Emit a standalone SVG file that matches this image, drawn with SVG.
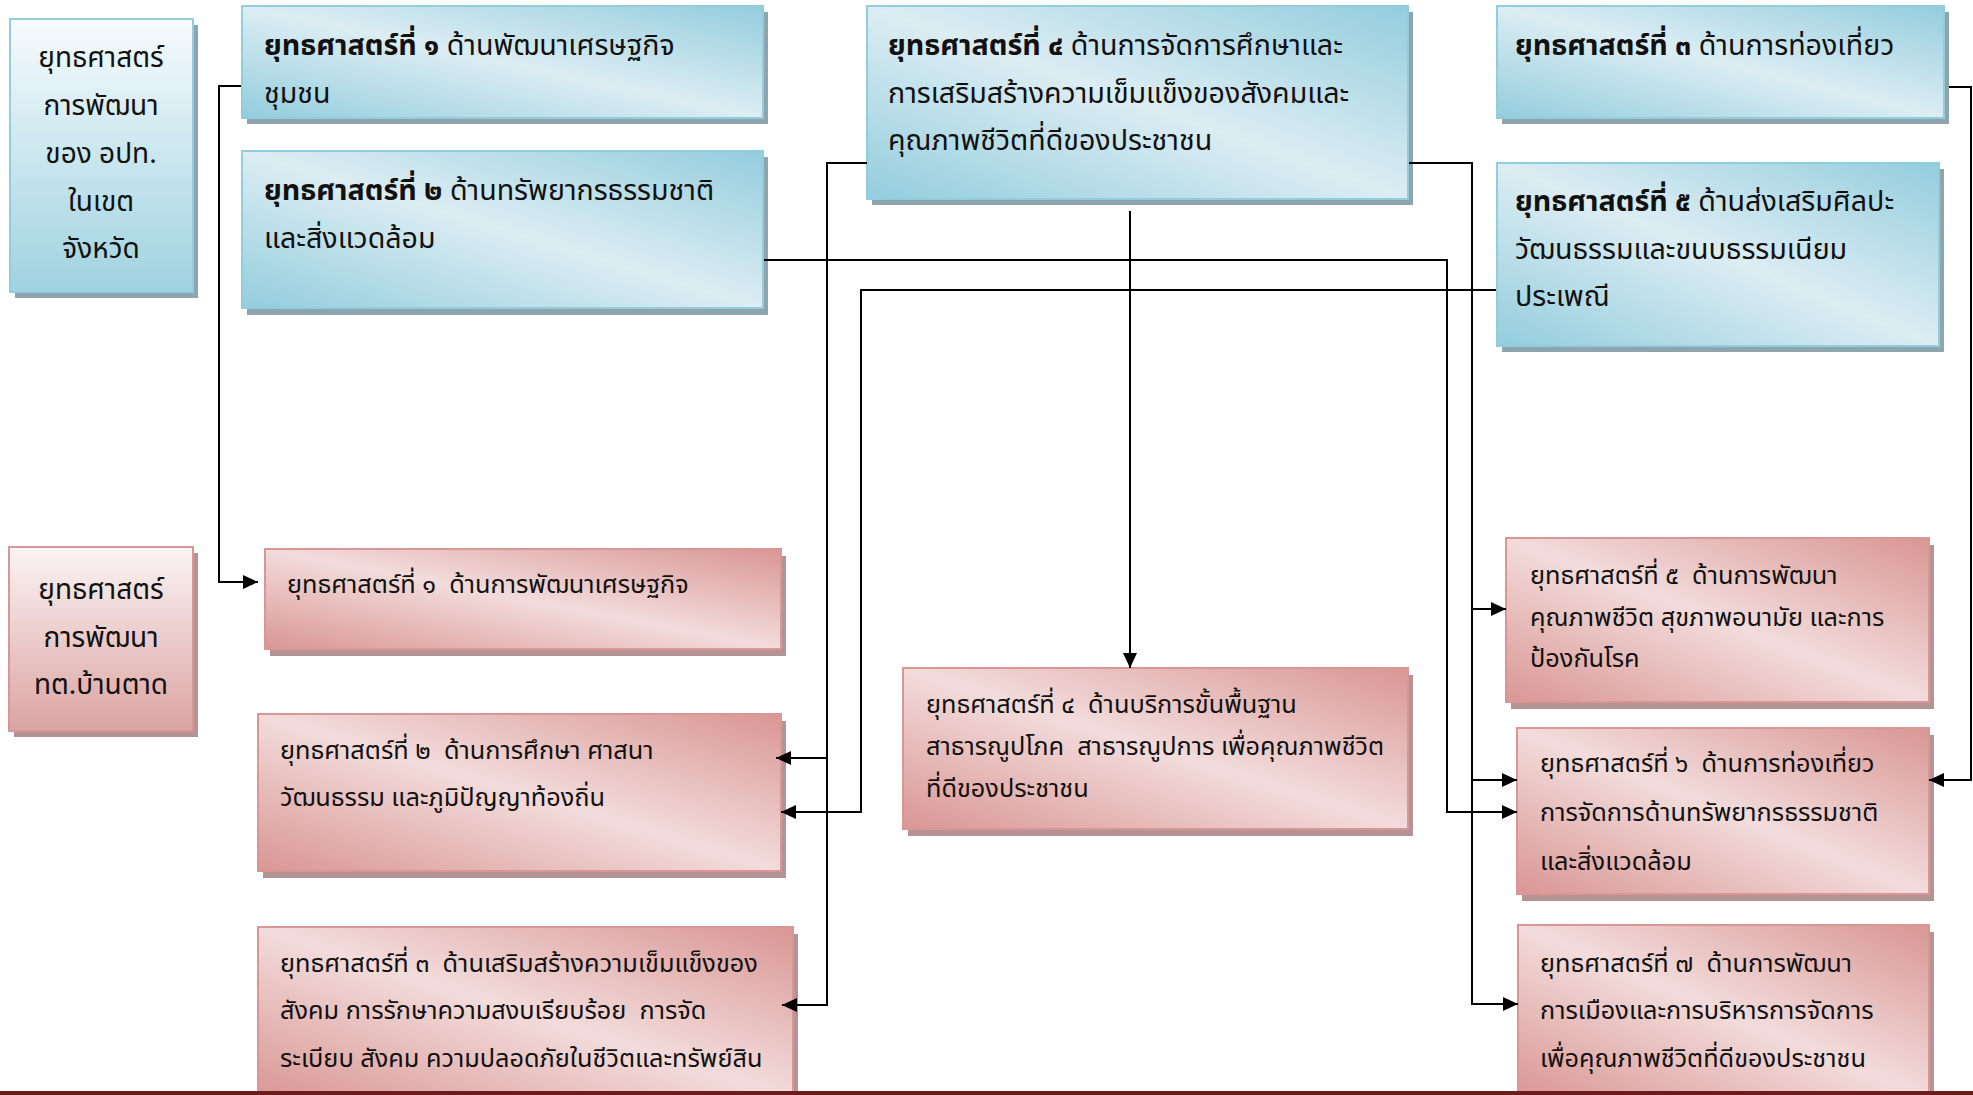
<svg xmlns="http://www.w3.org/2000/svg" width="1973" height="1095" viewBox="0 0 1973 1095">
<defs>
<linearGradient id="gBlue" x1="0" y1="1" x2="1" y2="0">
<stop offset="0" stop-color="#93cddd"/><stop offset="0.5" stop-color="#dcedf3"/><stop offset="1" stop-color="#93cddd"/>
</linearGradient>
<linearGradient id="gPink" x1="0" y1="1" x2="1" y2="0">
<stop offset="0" stop-color="#d99694"/><stop offset="0.5" stop-color="#f2dcdb"/><stop offset="1" stop-color="#d99694"/>
</linearGradient>
<linearGradient id="gBlueV" x1="0" y1="0" x2="0" y2="1">
<stop offset="0" stop-color="#f7fbfd"/><stop offset="1" stop-color="#9fd2e0"/>
</linearGradient>
<linearGradient id="gPinkV" x1="0" y1="0" x2="0" y2="1">
<stop offset="0" stop-color="#fbf4f4"/><stop offset="1" stop-color="#dba3a2"/>
</linearGradient>
<marker id="arr" markerUnits="userSpaceOnUse" markerWidth="16" markerHeight="14" refX="15" refY="7" orient="auto">
<path d="M0,0 L15,7 L0,14 z" fill="#000"/>
</marker>
</defs>
<style>
.bs{fill:#8ea5ad}
.ps{fill:#b39393}
.b{fill:url(#gBlue);stroke:#93cddd;stroke-width:2}
.p{fill:url(#gPink);stroke:#d99694;stroke-width:2}
.bv{fill:url(#gBlueV);stroke:#93cddd;stroke-width:2}
.pv{fill:url(#gPinkV);stroke:#d99694;stroke-width:2}
text{font-family:"Noto Sans Thai","Noto Sans Thai UI",Loma,Garuda,"Noto Sans","DejaVu Sans",sans-serif;font-size:25.3px;fill:#111;white-space:pre}
.t{font-size:28.6px}
.c{text-anchor:middle;font-size:28px}
.bd{font-weight:bold}
.ln{fill:none;stroke:#000;stroke-width:2}
.la{fill:none;stroke:#000;stroke-width:2;marker-end:url(#arr)}
</style>
<rect width="1973" height="1095" fill="#fff"/>

<g id="head-province">
<rect class="bs" x="15" y="25" width="183" height="273"/>
<rect class="bv" x="10" y="19" width="183" height="273"/>
<text class="c" x="101" y="67">ยุทธศาสตร์</text>
<text class="c" x="101" y="115">การพัฒนา</text>
<text class="c" x="101" y="163">ของ อปท.</text>
<text class="c" x="101" y="211">ในเขต</text>
<text class="c" x="101" y="258">จังหวัด</text>
</g>
<g id="head-local">
<rect class="ps" x="14" y="553" width="184" height="184"/>
<rect class="pv" x="9" y="547" width="184" height="184"/>
<text class="c" x="101" y="599">ยุทธศาสตร์</text>
<text class="c" x="101" y="647">การพัฒนา</text>
<text class="c" x="101" y="694">ทต.บ้านตาด</text>
</g>

<g id="a1">
<rect class="bs" x="247" y="12" width="521" height="112"/>
<rect class="b" x="242" y="6" width="521" height="112"/>
<text class="t" x="264" y="55"><tspan class="bd">ยุทธศาสตร์ที่ ๑</tspan> ด้านพัฒนาเศรษฐกิจ</text>
<text class="t" x="264" y="103">ชุมชน</text>
</g>
<g id="a2">
<rect class="bs" x="247" y="157" width="521" height="158"/>
<rect class="b" x="242" y="151" width="521" height="157"/>
<text class="t" x="264" y="200"><tspan class="bd">ยุทธศาสตร์ที่ ๒</tspan> ด้านทรัพยากรธรรมชาติ</text>
<text class="t" x="264" y="248">และสิ่งแวดล้อม</text>
</g>
<g id="a4">
<rect class="bs" x="872" y="12" width="541" height="193"/>
<rect class="b" x="867" y="6" width="541" height="193"/>
<text class="t" x="888" y="55"><tspan class="bd">ยุทธศาสตร์ที่ ๔</tspan> ด้านการจัดการศึกษาและ</text>
<text class="t" x="888" y="103">การเสริมสร้างความเข็มแข็งของสังคมและ</text>
<text class="t" x="888" y="150">คุณภาพชีวิตที่ดีของประชาชน</text>
</g>
<g id="a3">
<rect class="bs" x="1502" y="12" width="447" height="112"/>
<rect class="b" x="1497" y="6" width="447" height="112"/>
<text class="t" x="1515" y="55"><tspan class="bd">ยุทธศาสตร์ที่ ๓</tspan> ด้านการท่องเที่ยว</text>
</g>
<g id="a5">
<rect class="bs" x="1502" y="169" width="442" height="183"/>
<rect class="b" x="1497" y="163" width="442" height="183"/>
<text class="t" x="1515" y="211"><tspan class="bd">ยุทธศาสตร์ที่ ๕</tspan> ด้านส่งเสริมศิลปะ</text>
<text class="t" x="1515" y="259">วัฒนธรรมและขนบธรรมเนียม</text>
<text class="t" x="1515" y="306">ประเพณี</text>
</g>

<g id="p1">
<rect class="ps" x="270" y="556" width="516" height="100"/>
<rect class="p" x="265" y="549" width="516" height="100"/>
<text x="287" y="593">ยุทธศาสตร์ที่ ๑  ด้านการพัฒนาเศรษฐกิจ</text>
</g>
<g id="p2">
<rect class="ps" x="263" y="721" width="523" height="157"/>
<rect class="p" x="258" y="714" width="523" height="157"/>
<text x="280" y="759">ยุทธศาสตร์ที่ ๒  ด้านการศึกษา ศาสนา</text>
<text x="280" y="806">วัฒนธรรม และภูมิปัญญาท้องถิ่น</text>
</g>
<g id="p3">
<rect class="ps" x="263" y="934" width="535" height="170"/>
<rect class="p" x="258" y="927" width="535" height="172"/>
<text x="280" y="972">ยุทธศาสตร์ที่ ๓  ด้านเสริมสร้างความเข็มแข็งของ</text>
<text x="280" y="1019">สังคม การรักษาความสงบเรียบร้อย  การจัด</text>
<text x="280" y="1067">ระเบียบ สังคม ความปลอดภัยในชีวิตและทรัพย์สิน</text>
</g>
<g id="p4">
<rect class="ps" x="908" y="675" width="505" height="161"/>
<rect class="p" x="903" y="668" width="505" height="161"/>
<text x="926" y="713">ยุทธศาสตร์ที่ ๔  ด้านบริการขั้นพื้นฐาน</text>
<text x="926" y="755">สาธารณูปโภค  สาธารณูปการ เพื่อคุณภาพชีวิต</text>
<text x="926" y="797">ที่ดีของประชาชน</text>
</g>
<g id="p5">
<rect class="ps" x="1511" y="545" width="423" height="164"/>
<rect class="p" x="1506" y="538" width="423" height="164"/>
<text x="1530" y="584">ยุทธศาสตร์ที่ ๕  ด้านการพัฒนา</text>
<text x="1530" y="626">คุณภาพชีวิต สุขภาพอนามัย และการ</text>
<text x="1530" y="667">ป้องกันโรค</text>
</g>
<g id="p6">
<rect class="ps" x="1522" y="735" width="412" height="166"/>
<rect class="p" x="1517" y="728" width="412" height="166"/>
<text x="1540" y="772">ยุทธศาสตร์ที่ ๖  ด้านการท่องเที่ยว</text>
<text x="1540" y="821">การจัดการด้านทรัพยากรธรรมชาติ</text>
<text x="1540" y="870">และสิ่งแวดล้อม</text>
</g>
<g id="p7">
<rect class="ps" x="1523" y="932" width="411" height="172"/>
<rect class="p" x="1518" y="925" width="411" height="174"/>
<text x="1540" y="972">ยุทธศาสตร์ที่ ๗  ด้านการพัฒนา</text>
<text x="1540" y="1019">การเมืองและการบริหารการจัดการ</text>
<text x="1540" y="1067">เพื่อคุณภาพชีวิตที่ดีของประชาชน</text>
</g>

<g id="connectors">
<path class="la" d="M241,86 H219 V582 H258"/>
<path class="la" d="M867,163 H827 V1005 H782"/>
<path class="la" d="M827,758 H776"/>
<path class="la" d="M1496,290 H861 V812 H781"/>
<path class="la" d="M1130,211 V668"/>
<path class="la" d="M1409,163 H1472 V1004 H1518"/>
<path class="la" d="M1472,609 H1506"/>
<path class="la" d="M1472,780 H1517"/>
<path class="la" d="M764,260 H1447 V812 H1517"/>
<path class="la" d="M1949,87 H1971 V780 H1929"/>
</g>
<rect id="bottom-rule" x="0" y="1091" width="1973" height="4" fill="#6b1c1c"/>
</svg>
